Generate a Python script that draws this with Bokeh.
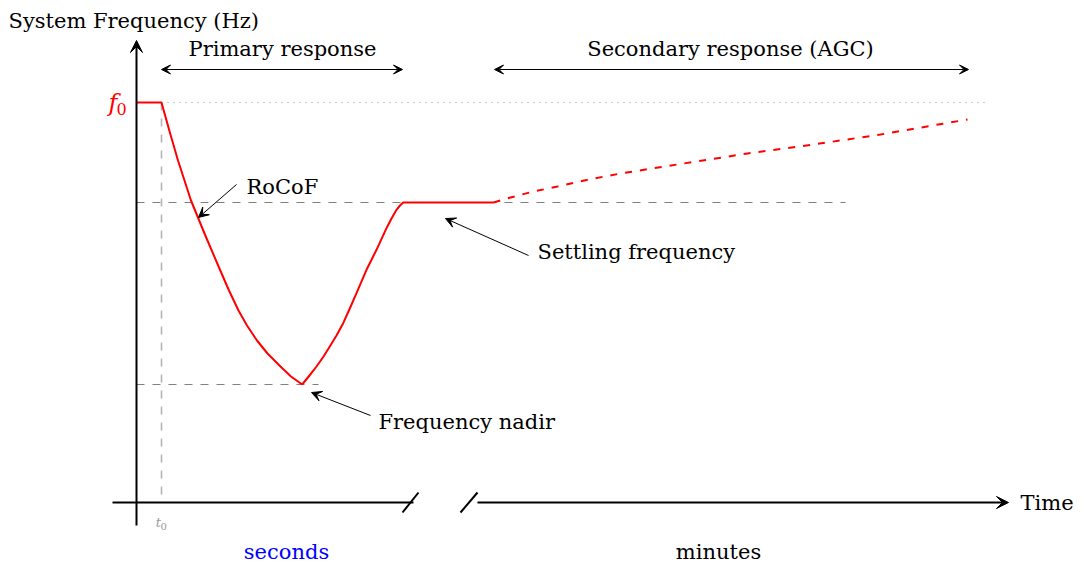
from bokeh.plotting import figure
from bokeh.models import Range1d, Label, Arrow, VeeHead
from bokeh.embed import file_html
from bokeh.resources import INLINE

# Frequency response after a loss of generation (arbitrary units)
F0 = 4.0          # nominal frequency level
F_SETTLE = 3.0    # settling frequency after primary response
F_NADIR = 1.18    # frequency nadir
T0 = 0.25         # disturbance instant

# pre-disturbance + fall to the nadir
t_fall = [0.0, 0.25, 0.328, 0.415, 0.545, 0.68, 0.825, 0.925, 1.02, 1.105, 1.205, 1.31, 1.45, 1.545, 1.657]
f_fall = [4.0, 4.0, 3.72, 3.42, 3.02, 2.69, 2.35, 2.12, 1.92, 1.77, 1.62, 1.49, 1.35, 1.26, 1.18]

# recovery from the nadir to the settling frequency, then flat
t_rise = [1.657, 1.73, 1.80, 1.867, 1.933, 2.0, 2.067, 2.133, 2.20, 2.30, 2.40, 2.50, 2.55, 2.60, 2.635, 2.667, 3.57]
f_rise = [1.18, 1.27, 1.36, 1.455, 1.56, 1.67, 1.793, 1.94, 2.093, 2.327, 2.527, 2.743, 2.84, 2.927, 2.97, 3.0, 3.0]

# secondary (AGC) restoration
t_agc = [3.57, 3.64, 3.74, 3.97, 4.21, 4.52, 4.84, 5.47, 6.11, 6.77, 7.44, 8.31]
f_agc = [3.0, 3.02, 3.05, 3.11, 3.16, 3.23, 3.29, 3.39, 3.49, 3.58, 3.68, 3.83]

FONT = "DejaVu Serif"
FS = "21px"

p = figure(width=1087, height=562, output_backend="svg", toolbar_location=None,
           x_range=Range1d(-1.36, 9.51), y_range=Range1d(-0.60, 5.02),
           min_border=0, outline_line_color=None, background_fill_color="white")
p.axis.visible = False
p.grid.visible = False

# reference lines
p.line([T0, 8.49], [F0, F0], line_color="#9a9a9a", line_width=1.2, line_dash="1 5")
p.line([0, 7.09], [F_SETTLE, F_SETTLE], line_color="#808080", line_width=1, line_dash="8 8")
p.line([0, 1.82], [F_NADIR, F_NADIR], line_color="#808080", line_width=1, line_dash="8 8")
p.line([T0, T0], [F0, 0], line_color="#b4b4b4", line_width=1.6, line_dash="8 8")

# frequency trace
p.line(t_fall, f_fall, line_color="red", line_width=2, line_join="round")
p.line(t_rise, f_rise, line_color="red", line_width=2, line_join="round")
p.line(t_agc, f_agc, line_color="red", line_width=2, line_dash="7 8")

# axes with a break in the time axis
p.add_layout(Arrow(x_start=0, y_start=-0.23, x_end=0, y_end=4.62, line_width=2, line_color="black",
                   end=VeeHead(size=12, fill_color="black", line_color="black", line_width=1)))
p.line([-0.24, 2.77], [0, 0], line_color="black", line_width=2)
p.line([2.66, 2.82], [-0.10, 0.10], line_color="black", line_width=2)
p.line([3.24, 3.41], [-0.10, 0.10], line_color="black", line_width=2)
p.add_layout(Arrow(x_start=3.41, y_start=0, x_end=8.72, y_end=0, line_width=2, line_color="black",
                   end=VeeHead(size=12, fill_color="black", line_color="black", line_width=1)))

# response spans
for xs, xe in [(0.25, 2.66), (3.58, 8.32)]:
    p.add_layout(Arrow(x_start=xs, y_start=4.33, x_end=xe, y_end=4.33, line_width=1, line_color="black",
                       start=VeeHead(size=9, fill_color="black", line_color="black", line_width=1),
                       end=VeeHead(size=9, fill_color="black", line_color="black", line_width=1)))

# annotation pointers
for xs, ys, xe, ye in [(1.00, 3.18, 0.62, 2.85), (3.92, 2.47, 3.09, 2.84), (2.34, 0.87, 1.75, 1.10)]:
    p.add_layout(Arrow(x_start=xs, y_start=ys, x_end=xe, y_end=ye, line_width=1, line_color="black",
                       end=VeeHead(size=10, fill_color="black", line_color="black", line_width=1)))


def label(x, y, text, align="left", color="black", size=FS, style="normal", baseline="middle"):
    p.add_layout(Label(x=x, y=y, text=text, text_align=align, text_baseline=baseline,
                       text_color=color, text_font=FONT, text_font_size=size,
                       text_font_style=style))


label(-1.28, 4.82, "System Frequency (Hz)")
label(1.46, 4.54, "Primary response", align="center")
label(5.94, 4.54, "Secondary response (AGC)", align="center")
label(1.10, 3.16, "RoCoF")
label(4.01, 2.51, "Settling frequency")
label(2.42, 0.81, "Frequency nadir")
label(8.84, 0.0, "Time")
label(1.50, -0.49, "seconds", align="center", color="blue")
label(5.82, -0.49, "minutes", align="center")
label(-0.19, 4.0, "f", align="right", color="red", size="24px", style="italic")
label(-0.20, 3.94, "0", color="red", size="16px")
label(0.245, -0.20, "t", align="right", color="#9a9a9a", size="13px", style="italic")
label(0.24, -0.235, "0", color="#9a9a9a", size="10px")

open("out.html", "w").write(file_html(p, INLINE))
